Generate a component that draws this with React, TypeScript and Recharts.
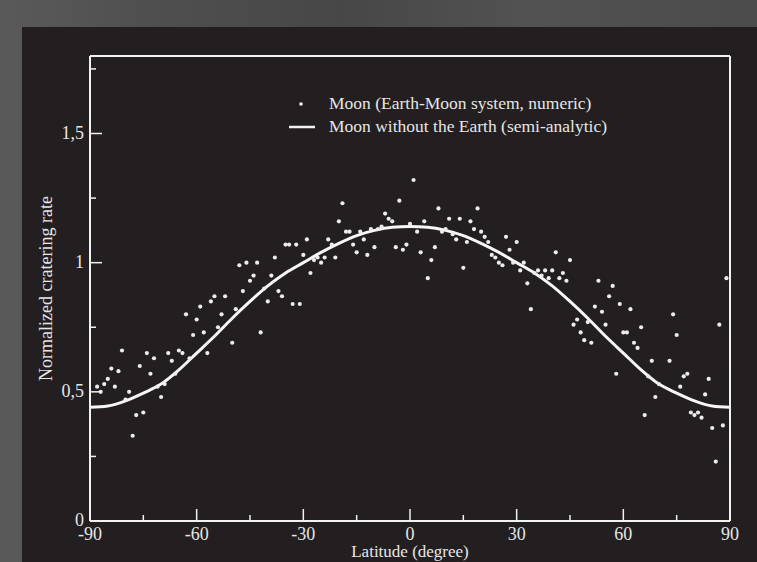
import React from 'react';
import { ComposedChart, Line, Scatter, XAxis, YAxis, Legend } from 'recharts';

// Numeric Earth-Moon run: cratering rate per latitude bin
const latitude = [
  -88, -87, -86, -85, -84, -83, -82, -81, -80, -79, -78, -77, -76, -75, -74, -73, -72, -71, -70, -69,
  -68, -67, -66, -65, -64, -63, -62, -61, -60, -59, -58, -57, -56, -55, -54, -53, -52, -50, -49, -48,
  -47, -46, -45, -44, -43, -42, -41, -40, -39, -38, -37, -36, -35, -34, -33, -32, -31, -30, -29, -28,
  -27, -26, -25, -24, -23, -22, -21, -20, -19, -18, -17, -16, -15, -14, -13, -12, -11, -10, -9, -8,
  -7, -6, -5, -4, -3, -2, -1, 0, 1, 2, 3, 4, 5, 6, 7, 8, 9, 10, 11, 12,
  13, 14, 15, 16, 17, 18, 19, 20, 21, 22, 23, 24, 25, 26, 27, 28, 29, 30, 31, 32,
  33, 34, 35, 36, 37, 38, 39, 40, 41, 42, 43, 44, 45, 46, 47, 48, 49, 50, 51, 52,
  53, 54, 55, 56, 57, 58, 59, 60, 61, 62, 63, 64, 65, 66, 67, 68, 69, 70, 73, 74,
  75, 76, 77, 78, 79, 80, 81, 82, 83, 84, 85, 86, 87, 88, 89,
];
const numericRate = [
  0.52, 0.50, 0.53, 0.55, 0.59, 0.52, 0.58, 0.66, 0.47, 0.50, 0.33, 0.41, 0.60, 0.42, 0.65, 0.57, 0.63, 0.52, 0.48, 0.53,
  0.65, 0.62, 0.57, 0.66, 0.65, 0.80, 0.63, 0.72, 0.78, 0.83, 0.73, 0.65, 0.85, 0.87, 0.75, 0.80, 0.87, 0.69, 0.82, 0.99,
  0.89, 1.00, 0.93, 0.95, 1.00, 0.73, 0.90, 0.85, 0.95, 1.02, 0.89, 0.87, 1.07, 1.07, 0.84, 1.07, 0.84, 1.03, 1.09, 0.96,
  1.01, 1.02, 1.00, 1.02, 1.09, 1.07, 1.02, 1.16, 1.23, 1.12, 1.12, 1.07, 1.04, 1.12, 1.09, 1.03, 1.13, 1.06, 1.13, 1.14,
  1.19, 1.17, 1.16, 1.06, 1.24, 1.05, 1.07, 1.15, 1.32, 1.12, 1.04, 1.16, 0.94, 1.01, 1.06, 1.21, 1.12, 1.13, 1.17, 1.11,
  1.09, 1.17, 0.98, 1.08, 1.16, 1.13, 1.21, 1.12, 1.10, 1.08, 1.03, 1.02, 1.00, 0.99, 1.10, 1.05, 1.00, 1.08, 0.97, 1.00,
  0.92, 0.82, 0.96, 0.97, 0.95, 0.97, 0.94, 0.97, 1.04, 0.94, 0.96, 0.93, 1.01, 0.76, 0.78, 0.73, 0.70, 0.77, 0.69, 0.83,
  0.93, 0.81, 0.76, 0.87, 0.91, 0.57, 0.84, 0.73, 0.73, 0.82, 0.69, 0.67, 0.75, 0.41, 0.56, 0.62, 0.48, 0.53, 0.62, 0.80,
  0.72, 0.52, 0.56, 0.57, 0.42, 0.41, 0.42, 0.40, 0.49, 0.55, 0.36, 0.23, 0.76, 0.37, 0.94,
];

// Semi-analytic model without the Earth
const modelLatitude = [
  -90, -85, -80, -75, -70, -65, -60, -55, -50, -45, -40, -35, -30, -25, -20, -15, -10, -5, 0,
  5, 10, 15, 20, 25, 30, 35, 40, 45, 50, 55, 60, 65, 70, 75, 80, 85, 90,
];
const modelRate = [
  0.44, 0.445, 0.465, 0.495, 0.53, 0.585, 0.65, 0.715, 0.785, 0.85, 0.91, 0.96, 1.0, 1.04, 1.075, 1.105, 1.125, 1.137, 1.14,
  1.137, 1.125, 1.105, 1.075, 1.04, 1.0, 0.96, 0.91, 0.85, 0.785, 0.715, 0.65, 0.585, 0.53, 0.495, 0.465, 0.445, 0.44,
];

const xTicks = [-90, -75, -60, -45, -30, -15, 0, 15, 30, 45, 60, 75, 90];
const yTicks = [0, 0.25, 0.5, 0.75, 1, 1.25, 1.5, 1.75];

const dots = latitude.map((lat, i) => ({ lat, rate: numericRate[i] }));
const model = modelLatitude.map((lat, i) => ({ lat, rate: modelRate[i] }));

const INK = '#f2f2f2';
const TEXT = '#e6e6e6';
const SERIF = '"Liberation Serif", "DejaVu Serif", serif';
const MAJOR = 12;
const MINOR = 6;

const isMajorX = (v: number) => v % 30 === 0;
const isMajorY = (v: number) => Math.abs(v * 2 - Math.round(v * 2)) < 1e-6;
const fmtY = (v: number) => String(v).replace('.', ',');

// ticks point inward; tickSize/tickMargin are 0 so x/y sit on the axis line
const BottomTick = (props: any) => {
  const { x, y, payload } = props;
  const major = isMajorX(payload.value);
  return (
    <g>
      <line x1={x} x2={x} y1={y} y2={y - (major ? MAJOR : MINOR)} stroke={INK} strokeWidth={1.5} />
      {major && (
        <text x={x} y={y + 19} textAnchor="middle" fill={TEXT} fontSize={18} fontFamily={SERIF}>
          {payload.value}
        </text>
      )}
    </g>
  );
};

const TopTick = (props: any) => {
  const { x, y, payload } = props;
  const len = isMajorX(payload.value) ? MAJOR : MINOR;
  return <line x1={x} x2={x} y1={y} y2={y + len} stroke={INK} strokeWidth={1.5} />;
};

const LeftTick = (props: any) => {
  const { x, y, payload } = props;
  const major = isMajorY(payload.value);
  return (
    <g>
      <line x1={x} x2={x + (major ? MAJOR : MINOR)} y1={y} y2={y} stroke={INK} strokeWidth={1.5} />
      {major && (
        <text x={x - 6} y={y + 5} textAnchor="end" fill={TEXT} fontSize={18} fontFamily={SERIF}>
          {fmtY(payload.value)}
        </text>
      )}
    </g>
  );
};

const RightTick = (props: any) => {
  const { x, y, payload } = props;
  const len = isMajorY(payload.value) ? MAJOR : MINOR;
  return <line x1={x} x2={x - len} y1={y} y2={y} stroke={INK} strokeWidth={1.5} />;
};

const Dot = (props: any) => <circle cx={props.cx} cy={props.cy} r={2.1} fill="#ececec" />;

const LegendBox = () => (
  <div style={{ fontFamily: SERIF, fontSize: 17.5, color: TEXT, lineHeight: '23px' }}>
    <div style={{ display: 'flex', alignItems: 'center', height: 23 }}>
      <svg width={40} height={23}>
        <circle cx={12} cy={12} r={1.8} fill={INK} />
      </svg>
      <span>Moon (Earth-Moon system, numeric)</span>
    </div>
    <div style={{ display: 'flex', alignItems: 'center', height: 23 }}>
      <svg width={40} height={23}>
        <line x1={0} x2={26} y1={12} y2={12} stroke={INK} strokeWidth={2.5} />
      </svg>
      <span>Moon without the Earth (semi-analytic)</span>
    </div>
  </div>
);

const frame = { stroke: INK, strokeWidth: 2 };

export default function App() {
  return (
    <div
      style={{
        position: 'relative',
        width: 757,
        height: 562,
        overflow: 'hidden',
        background: 'linear-gradient(90deg, #5a5a5a 0%, #4f4f4f 20%, #474747 45%, #525252 70%, #4b4b4b 100%)',
      }}
    >
      <style>{'body{margin:0}'}</style>
      <div style={{ position: 'absolute', left: 22, top: 27, right: 0, bottom: 0, background: '#231f20' }} />
      <div style={{ position: 'absolute', left: 0, top: 0 }}>
        <ComposedChart width={757} height={562} margin={{ top: 55, right: 26, bottom: 40, left: 89 }}>
          <XAxis
            dataKey="lat"
            type="number"
            domain={[-90, 90]}
            ticks={xTicks}
            interval={0}
            height={1}
            tickSize={0}
            tickMargin={0}
            tickLine={false}
            axisLine={frame}
            tick={<BottomTick />}
            label={{ value: 'Latitude (degree)', position: 'bottom', offset: 23, fill: TEXT, fontSize: 17, fontFamily: SERIF }}
          />
          <XAxis
            xAxisId="top"
            orientation="top"
            dataKey="lat"
            type="number"
            domain={[-90, 90]}
            ticks={xTicks}
            interval={0}
            height={1}
            tickSize={0}
            tickMargin={0}
            tickLine={false}
            axisLine={frame}
            tick={<TopTick />}
          />
          <YAxis
            type="number"
            domain={[0, 1.8]}
            ticks={yTicks}
            interval={0}
            width={1}
            tickSize={0}
            tickMargin={0}
            tickLine={false}
            axisLine={frame}
            tick={<LeftTick />}
            label={{
              value: 'Normalized cratering rate',
              angle: -90,
              position: 'left',
              offset: 43,
              fill: TEXT,
              fontSize: 18,
              fontFamily: SERIF,
              style: { textAnchor: 'middle' },
            }}
          />
          <YAxis
            yAxisId="right"
            orientation="right"
            type="number"
            domain={[0, 1.8]}
            ticks={yTicks}
            interval={0}
            width={1}
            tickSize={0}
            tickMargin={0}
            tickLine={false}
            axisLine={frame}
            tick={<RightTick />}
          />
          <Legend
            layout="horizontal"
            verticalAlign="middle"
            content={<LegendBox />}
            wrapperStyle={{ position: 'absolute', left: 289, top: 92, width: 'auto' }}
          />
          <Scatter data={dots} dataKey="rate" shape={<Dot />} isAnimationActive={false} />
          <Line
            data={model}
            dataKey="rate"
            type="monotone"
            stroke="#f7f7f7"
            strokeWidth={3}
            dot={false}
            activeDot={false}
            isAnimationActive={false}
          />
        </ComposedChart>
      </div>
    </div>
  );
}
